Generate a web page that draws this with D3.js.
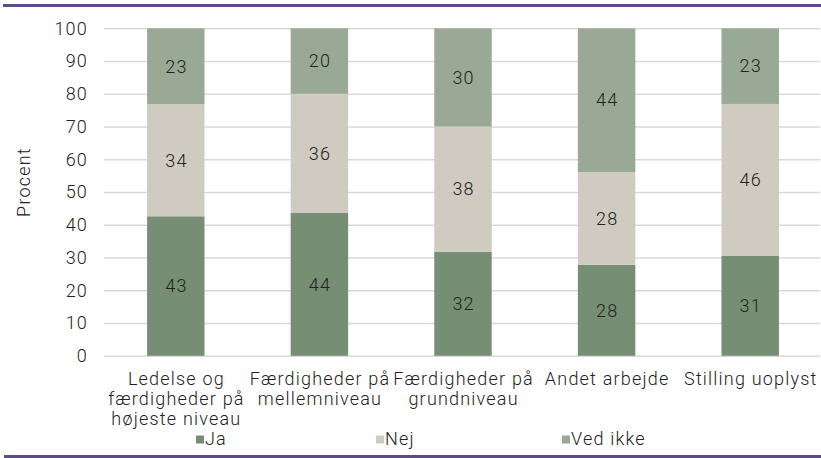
<!DOCTYPE html>
<html>
<head>
<meta charset="utf-8">
<script src="https://cdn.jsdelivr.net/npm/d3@7"></script>
<style>
  body { margin: 0; background: #fff; }
  text { font-family: Roboto, "Noto Sans", sans-serif; font-weight: 300; letter-spacing: 1.2px; }
</style>
</head>
<body>
<div id="chart"></div>
<script>
// categories (line breaks as in the original labels)
var categories = [
    "Ledelse og\nfærdigheder på\nhøjeste niveau",
    "Færdigheder på\nmellemniveau",
    "Færdigheder på\ngrundniveau",
    "Andet arbejde",
    "Stilling uoplyst"
];
var seriesNames = ["Ja", "Nej", "Ved ikke"];
var ja = [42.6, 43.6, 31.8, 27.8, 30.6];
var nej = [34.2, 36.4, 38.2, 28.3, 46.3];
var vedIkke = [23.2, 20.0, 30.0, 43.9, 23.1];
var yTicks = [0, 10, 20, 30, 40, 50, 60, 70, 80, 90, 100];

var colors = ["#758e74", "#cfcbc0", "#9aa996"];
var textColor = "#222";
var fontSize = "18px";

var svgWidth = 821;
var svgHeight = 458;

var margin = { top: 28.3, right: 0, bottom: 102.2, left: 104 };
var width = 718;
var height = svgHeight - margin.top - margin.bottom;

var svg = d3.select("#chart")
    .append("svg")
    .attr("width", svgWidth)
    .attr("height", svgHeight);

// purple frame lines top and bottom
svg.append("rect").attr("x", 3).attr("y", 4).attr("width", svgWidth - 3).attr("height", 3).attr("fill", "#5f4b8b");
svg.append("rect").attr("x", 4).attr("y", 455).attr("width", svgWidth - 4).attr("height", 3).attr("fill", "#5f4b8b");

var chartGroup = svg.append("g")
    .attr("transform", `translate(${margin.left}, ${margin.top})`);

// build table for stacking
var table = categories.map(function (c, i) {
    return { cat: c, "Ja": ja[i], "Nej": nej[i], "Ved ikke": vedIkke[i] };
});
var stacked = d3.stack().keys(seriesNames)(table);

var xScale = d3.scaleBand()
    .domain(categories)
    .range([0, width])
    .paddingInner(0.6)
    .paddingOuter(0.3);

var yScale = d3.scaleLinear()
    .domain([0, 100])
    .range([height, 0]);

// gridlines + y tick labels
var leftAxis = d3.axisLeft(yScale)
    .tickValues(yTicks)
    .tickSize(-(width - 2))
    .tickPadding(16);

var yAxisG = chartGroup.append("g").call(leftAxis);
yAxisG.select(".domain").remove();
yAxisG.selectAll("line")
    .attr("stroke", "#d9d9d9")
    .attr("stroke-width", 1.5);
yAxisG.selectAll("text")
    .attr("fill", textColor)
    .attr("font-size", fontSize)
    .style("font-family", "Roboto, sans-serif")
    .style("font-weight", 300);

// bars
var layers = chartGroup.selectAll(".layer")
    .data(stacked)
    .enter()
    .append("g")
    .attr("class", "layer")
    .attr("fill", (d, i) => colors[i]);

layers.selectAll("rect")
    .data(d => d)
    .enter()
    .append("rect")
    .attr("x", d => xScale(d.data.cat))
    .attr("y", d => yScale(d[1]))
    .attr("width", xScale.bandwidth())
    .attr("height", d => yScale(d[0]) - yScale(d[1]));

// value labels
layers.selectAll(".val")
    .data(d => d)
    .enter()
    .append("text")
    .attr("class", "val")
    .attr("x", d => xScale(d.data.cat) + xScale.bandwidth() / 2 + 0.6)
    .attr("y", d => (yScale(d[0]) + yScale(d[1])) / 2)
    .attr("dy", "0.35em")
    .attr("text-anchor", "middle")
    .attr("fill", textColor)
    .attr("font-size", fontSize)
    .text(d => Math.round(d[1] - d[0]));

// category labels
var bottomAxis = d3.axisBottom(xScale).tickSize(0).tickFormat("");
var xAxisG = chartGroup.append("g")
    .attr("transform", `translate(0, ${height})`)
    .call(bottomAxis);
xAxisG.select(".domain").remove();

xAxisG.selectAll(".tick")
    .append("text")
    .attr("text-anchor", "middle")
    .attr("fill", textColor)
    .attr("font-size", fontSize)
    .style("font-family", "Roboto, sans-serif")
    .style("font-weight", 300)
    .each(function (d) {
        var t = d3.select(this);
        d.split("\n").forEach(function (line, i) {
            t.append("tspan")
                .attr("x", 0.6)
                .attr("y", 29 + i * 20)
                .text(line);
        });
    });

// y axis title
svg.append("text")
    .attr("transform", "rotate(-90)")
    .attr("x", -182)
    .attr("y", 30)
    .attr("text-anchor", "middle")
    .attr("fill", textColor)
    .attr("font-size", fontSize)
    .text("Procent");

// legend
var legendX = [196, 376, 562];
var legend = svg.selectAll(".legend")
    .data(seriesNames)
    .enter()
    .append("g")
    .attr("class", "legend")
    .attr("transform", (d, i) => `translate(${legendX[i]}, 0)`);

legend.append("rect")
    .attr("x", 0)
    .attr("y", 435.5)
    .attr("width", 8)
    .attr("height", 8)
    .attr("fill", (d, i) => colors[i]);

legend.append("text")
    .attr("x", 9)
    .attr("y", 445)
    .attr("fill", textColor)
    .attr("font-size", fontSize)
    .text(d => d);
</script>
</body>
</html>
